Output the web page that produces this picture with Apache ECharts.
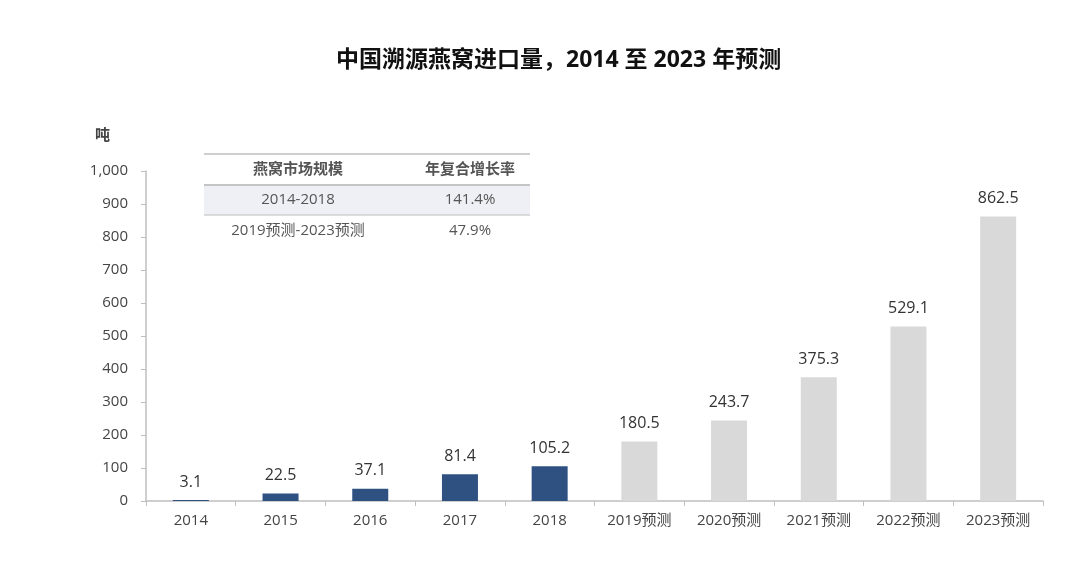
<!DOCTYPE html>
<html>
<head>
    <meta http-equiv="Content-Type" content="text/html; charset=UTF-8">
    <script type="text/javascript" src="https://cdn.jsdelivr.net/npm/echarts@6/dist/echarts.min.js" charset="utf-8"></script>
    <style>
        html, body { margin: 0; padding: 0; background: #fff; }
        #main { width: 1080px; height: 588px; }
    </style>
</head>
<body>
<div id="main"></div>
<script>
    // 数据
    var years = ['2014', '2015', '2016', '2017', '2018', '2019预测', '2020预测', '2021预测', '2022预测', '2023预测'];
    var volumes = [3.1, 22.5, 37.1, 81.4, 105.2, 180.5, 243.7, 375.3, 529.1, 862.5];
    var forecastFrom = 5; // 从第几个开始是预测值
    var tableHead = ['燕窝市场规模', '年复合增长率'];
    var tablePeriods = ['2014-2018', '2019预测-2023预测'];
    var tableRates = ['141.4%', '47.9%'];

    var font = '"Open Sans", "Noto Sans CJK SC", sans-serif';
    var myChart = echarts.init(document.getElementById('main'));

    var barData = [];
    for (var i = 0; i < volumes.length; i++) {
        barData.push({
            value: volumes[i],
            itemStyle: { color: i < forecastFrom ? '#2f5182' : '#d9d9d9' }
        });
    }

    // 表格
    var colX = [298, 470];
    var rowY = [170, 200, 231];
    var table = [
        { type: 'rect', shape: { x: 204, y: 186, width: 326, height: 29 }, style: { fill: '#eef0f6' } },
        { type: 'line', shape: { x1: 204, y1: 154, x2: 530, y2: 154 }, style: { stroke: '#cfcfcf', lineWidth: 2 } },
        { type: 'line', shape: { x1: 204, y1: 185, x2: 530, y2: 185 }, style: { stroke: '#c4c4c4', lineWidth: 2 } },
        { type: 'line', shape: { x1: 204, y1: 215, x2: 530, y2: 215 }, style: { stroke: '#d0d0d0', lineWidth: 1.5 } }
    ];
    tableHead.forEach(function (t, k) {
        table.push({ type: 'text', x: colX[k], y: rowY[0], style: { text: t, fill: '#555', font: 'bold 15px ' + font, align: 'center', verticalAlign: 'middle' } });
    });
    tablePeriods.forEach(function (t, k) {
        table.push({ type: 'text', x: colX[0], y: rowY[k + 1], style: { text: t, fill: '#555', font: '15px ' + font, align: 'center', verticalAlign: 'middle' } });
        table.push({ type: 'text', x: colX[1], y: rowY[k + 1], style: { text: tableRates[k], fill: '#555', font: '15px ' + font, align: 'center', verticalAlign: 'middle' } });
    });

    myChart.setOption({
        backgroundColor: '#fff',
        animation: false,
        title: {
            text: '中国溯源燕窝进口量，2014 至 2023 年预测',
            left: 331,
            top: 44,
            textStyle: { fontFamily: font, fontSize: 23, fontWeight: 'bold', color: '#111' }
        },
        grid: { left: 146, right: 37, top: 171, bottom: 87 },
        xAxis: {
            type: 'category',
            data: years,
            axisLine: { lineStyle: { color: '#bfbfbf', width: 1.5 } },
            axisTick: { show: true, alignWithLabel: false, length: 5, lineStyle: { color: '#bfbfbf' } },
            axisLabel: { color: '#444', fontFamily: font, fontSize: 15, margin: 12 }
        },
        yAxis: {
            type: 'value',
            min: 0,
            max: 1000,
            interval: 100,
            name: '吨',
            nameLocation: 'end',
            nameGap: 28,
            nameTextStyle: { fontFamily: font, fontSize: 15, fontWeight: 'bold', color: '#444', align: 'right', padding: [0, 36, 0, 0] },
            axisLine: { show: true, lineStyle: { color: '#bfbfbf', width: 1.5 } },
            axisTick: { show: true, length: 5, lineStyle: { color: '#bfbfbf' } },
            splitLine: { show: false },
            axisLabel: {
                color: '#444', fontFamily: font, fontSize: 15, margin: 18,
                formatter: function (v) { return v.toLocaleString('en-US'); }
            }
        },
        series: [{
            type: 'bar',
            data: barData,
            barWidth: 36,
            label: {
                show: true,
                position: 'top',
                distance: 10,
                color: '#333',
                fontFamily: font,
                fontSize: 16
            }
        }],
        graphic: table
    });
</script>
</body>
</html>
